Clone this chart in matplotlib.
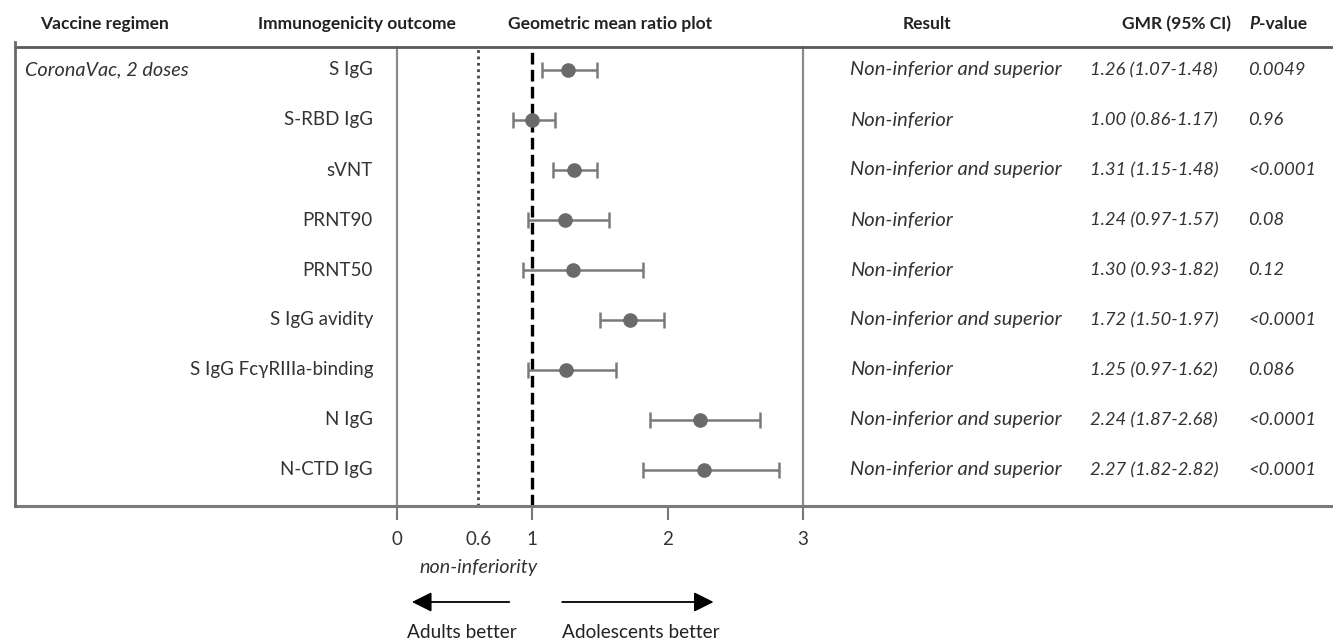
import matplotlib.pyplot as plt
from matplotlib.lines import Line2D
from matplotlib.transforms import blended_transform_factory

plt.rcParams['font.family'] = ['Lato', 'DejaVu Sans']

# Data
regimen = 'CoronaVac, 2 doses'
outcomes = ['S IgG', 'S-RBD IgG', 'sVNT', 'PRNT90', 'PRNT50', 'S IgG avidity',
            'S IgG FcγRIIIa-binding', 'N IgG', 'N-CTD IgG']
gmr = [1.26, 1.00, 1.31, 1.24, 1.30, 1.72, 1.25, 2.24, 2.27]
ci_low = [1.07, 0.86, 1.15, 0.97, 0.93, 1.50, 0.97, 1.87, 1.82]
ci_high = [1.48, 1.17, 1.48, 1.57, 1.82, 1.97, 1.62, 2.68, 2.82]
results = ['Non-inferior and superior', 'Non-inferior', 'Non-inferior and superior',
           'Non-inferior', 'Non-inferior', 'Non-inferior and superior',
           'Non-inferior', 'Non-inferior and superior', 'Non-inferior and superior']
pvals = ['0.0049', '0.96', '<0.0001', '0.08', '0.12', '<0.0001', '0.086',
         '<0.0001', '<0.0001']
margin = 0.6
xticks = [0, 1, 2, 3]

W, H = 1333, 644


def fx(px):
    return px / W


def fy(py):
    return 1 - py / H


fig = plt.figure(figsize=(W / 100, H / 100), dpi=100)
top_px, bot_px = 47, 506
ax = fig.add_axes([fx(397), fy(bot_px), (803 - 397) / W, (bot_px - top_px) / H])

rows = list(range(len(outcomes)))
ax.set_xlim(0, 3)
ax.set_ylim((bot_px - 70) / 50, (top_px - 70) / 50)

# reference lines
ax.axvline(margin, color='#444444', lw=2, linestyle=(0, (1, 1.3)))
ax.axvline(1, color='black', lw=2.4, linestyle=(0, (3.5, 1.6)))

# point estimates with CIs
xerr = [[g - l for g, l in zip(gmr, ci_low)], [h - g for g, h in zip(gmr, ci_high)]]
ax.errorbar(gmr, rows, xerr=xerr, fmt='o', color='#6a6a6a', ecolor='#7a7a7a',
            elinewidth=1.8, capsize=6, capthick=1.8, markersize=9.5, zorder=3)

ax.spines['top'].set_visible(False)
ax.spines['bottom'].set_visible(False)
for side in ['left', 'right']:
    ax.spines[side].set_color('#8a8a8a')
    ax.spines[side].set_linewidth(1.6)
ax.set_yticks([])
ax.set_xticks(xticks, labels=[str(t) for t in xticks])
ax.set_xticks([margin], labels=[str(margin)], minor=True)
ax.tick_params(axis='x', which='major', direction='out', length=10, width=1.5,
               color='#777777', labelsize=13.5, labelcolor='#333333', pad=8)
ax.tick_params(axis='x', which='minor', length=0, labelsize=13.5,
               labelcolor='#333333', pad=18)

# table frame lines
fig.add_artist(Line2D([fx(15), 1], [fy(top_px), fy(top_px)], color='#5a5a5a', lw=2))
fig.add_artist(Line2D([fx(15), 1], [fy(bot_px), fy(bot_px)], color='#7a7a7a', lw=2.2))
fig.add_artist(Line2D([fx(15), fx(15)], [fy(42), fy(bot_px)], color='#6a6a6a', lw=2))

# headers
hdr = dict(fontsize=12.5, fontweight='bold', color='#222222', ha='center', va='center')
fig.text(fx(104), fy(24), 'Vaccine regimen', **hdr)
fig.text(fx(357), fy(24), 'Immunogenicity outcome', **hdr)
fig.text(fx(610), fy(24), 'Geometric mean ratio plot', **hdr)
fig.text(fx(927), fy(24), 'Result', **hdr)
fig.text(fx(1177), fy(24), 'GMR (95% CI)', **hdr)
tp = fig.text(fx(1249), fy(24), 'P', fontsize=12.5, fontweight='bold', fontstyle='italic',
              color='#222222', ha='left', va='center')
ax.annotate('-value', xy=(1, 0.5), xycoords=tp, ha='left', va='center',
            fontsize=12.5, fontweight='bold', color='#222222')

# table columns
tr = blended_transform_factory(fig.transFigure, ax.transData)
txt = dict(color='#333333', va='center', transform=tr)
ax.text(fx(25), rows[0], regimen, ha='left', fontstyle='italic', fontsize=14.3, **txt)
for r, name, res, lo, g, hi, p in zip(rows, outcomes, results, ci_low, gmr, ci_high, pvals):
    ax.text(fx(373), r, name, ha='right', fontsize=13.5, **txt)
    ax.text(fx(850), r, res, ha='left', fontstyle='italic', fontsize=14.5, **txt)
    ax.text(fx(1090), r, f'{g:.2f} ({lo:.2f}-{hi:.2f})', ha='left',
            fontstyle='italic', fontsize=13.2, **txt)
    ax.text(fx(1248), r, p, ha='left', fontstyle='italic', fontsize=13.2, **txt)

# annotations below the axis
bt = blended_transform_factory(ax.transData, fig.transFigure)
ax.text(margin, fy(568), 'non-inferiority', transform=bt, ha='center', va='center',
        fontsize=14.2, fontstyle='italic', color='#333333')
arrow = dict(arrowstyle='-|>', color='black', lw=1.3, mutation_scale=30)
ax.annotate('', xy=(0.09, fy(602)), xytext=(0.85, fy(602)), xycoords=bt,
            textcoords=bt, arrowprops=arrow, annotation_clip=False)
ax.annotate('', xy=(2.36, fy(602)), xytext=(1.2, fy(602)), xycoords=bt,
            textcoords=bt, arrowprops=arrow, annotation_clip=False)
ax.text(0.48, fy(633), 'Adults better', transform=bt, ha='center', va='center',
        fontsize=13.7, color='#222222')
ax.text(1.8, fy(633), 'Adolescents better', transform=bt, ha='center', va='center',
        fontsize=13.7, color='#222222')

fig.savefig('out.png', dpi=100)
